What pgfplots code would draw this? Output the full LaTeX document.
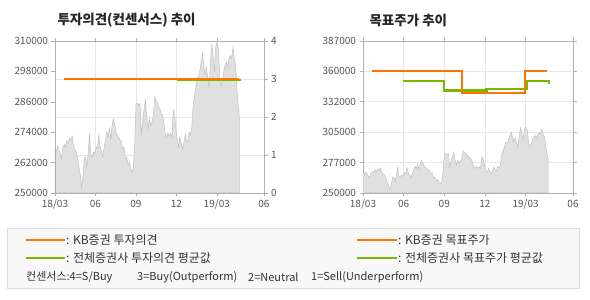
\documentclass[border=0pt]{standalone}
\usepackage{pgfplots}
\pgfplotsset{compat=1.18}
\usepackage{pgfplotstable}
\usepackage{fontspec}
\setmainfont{Noto Sans CJK KR}
\definecolor{kborange}{HTML}{FF7300}
\definecolor{avggreen}{HTML}{7AB800}
\definecolor{areafill}{HTML}{E0E0E0}
\definecolor{areaedge}{HTML}{C2C2C2}
\definecolor{gridc}{HTML}{E8E8E8}
\definecolor{axisc}{HTML}{B0B0B0}
\definecolor{tickc}{HTML}{555555}
\definecolor{legfill}{HTML}{F8F8F8}
\definecolor{legedge}{HTML}{DDDDDD}

\pgfplotstableread{
m v
0.00 267500
0.10 266200
0.20 268800
0.30 266800
0.39 265500
0.49 263900
0.59 268200
0.69 269200
0.79 268200
0.89 270800
0.99 269500
1.08 271800
1.18 270800
1.28 272400
1.38 268400
1.48 267100
1.58 266200
1.67 264200
1.77 260300
1.87 257600
1.97 252400
2.07 256300
2.17 263600
2.27 264200
2.36 260300
2.46 265500
2.56 273400
2.66 264900
2.76 264200
2.86 266200
2.96 265500
3.05 268200
3.15 267500
3.25 272800
3.35 268200
3.45 266200
3.55 264200
3.65 268200
3.74 270800
3.84 274100
3.94 272100
4.04 275400
4.14 270800
4.24 277400
4.33 279300
4.43 276700
4.53 274100
4.63 272800
4.73 272100
4.83 270800
4.93 270100
5.02 267500
5.12 268200
5.22 262900
5.32 264200
5.42 260900
5.52 262200
5.62 259600
5.71 257900
5.81 260300
5.91 268800
6.01 285300
6.11 285500
6.21 284600
6.31 285300
6.40 272800
6.50 278700
6.60 282600
6.70 286800
6.80 280000
6.90 275400
7.00 279300
7.09 276700
7.19 278000
7.29 280700
7.39 287900
7.49 286600
7.59 285900
7.68 283900
7.78 283300
7.88 281300
7.98 280700
8.08 277400
8.18 273400
8.28 272100
8.37 274100
8.47 272400
8.57 273700
8.67 272100
8.77 282600
8.87 280700
8.97 275400
9.06 270800
9.16 268200
9.26 272100
9.36 269500
9.46 267500
9.56 270100
9.66 273400
9.75 270800
9.85 270100
9.95 274100
10.05 272800
10.15 276100
10.25 285300
10.34 287900
10.44 291800
10.54 295800
10.64 295100
10.74 298400
10.84 301700
10.94 305000
11.03 300400
11.13 296400
11.23 299700
11.33 295800
11.43 291200
11.53 301700
11.63 308900
11.72 304300
11.82 297800
11.92 307600
12.02 309600
12.12 307000
12.22 295100
12.32 292500
12.41 293800
12.51 297800
12.61 300400
12.71 301700
12.81 299700
12.91 303000
13.00 304300
13.10 303000
13.20 307600
13.30 303000
13.40 300400
13.50 290500
13.60 283900
13.67 280000
}\price

\pgfplotsset{
  base/.style={
    scale only axis, height=152pt,
    xmin=0, xmax=15.5,
    xtick={0,3,6,9,12,15.5},
    xticklabels={18/03,06,09,12,19/03,06},
    axis line style={axisc}, tick style={axisc, line width=0.6pt},
    tick align=outside, major tick length=3.5pt,
    ticklabel style={font=\fontsize{10}{12}\selectfont, text=tickc},
    /pgf/number format/assume math mode=true,
    grid style={gridc, line width=0.8pt},
    scaled y ticks=false,
    yticklabel style={/pgf/number format/fixed, /pgf/number format/1000 sep={}},
    clip=true,
  },
  pricearea/.style={fill=areafill, draw=areaedge, line width=0.5pt},
}

\begin{document}
\begin{tikzpicture}[x=1pt,y=1pt]
\useasboundingbox (0,0) rectangle (590,300);

% titles
\node[anchor=west, font=\fontsize{13.5}{15}\selectfont\bfseries, text=black!85] at (54,280) {투자의견(컨센서스) 추이};
\node[anchor=west, font=\fontsize{13.5}{15}\selectfont\bfseries, text=black!85] at (366,280) {목표주가 추이};

% left chart: price
\begin{axis}[base, width=209pt, at={(55pt,107pt)}, anchor=south west,
  ymin=250000, ymax=310000,
  ytick={250000,262000,274000,286000,298000,310000},
  xmajorgrids,
  extra y ticks={265000,280000,295000},
  extra y tick labels={},
  extra y tick style={ymajorgrids, major tick length=0pt},
  axis y line*=left, axis x line*=box]
\addplot[pricearea] table[x=m,y=v] {\price} \closedcycle;
\end{axis}
% left chart: rating
\begin{axis}[base, width=209pt, at={(55pt,107pt)}, anchor=south west,
  ymin=0, ymax=4, ytick={0,1,2,3,4},
  axis y line*=right, axis x line=none]
\addplot[avggreen, line width=2.2pt] coordinates {(9.04,2.975) (13.82,2.975)};
\addplot[kborange, line width=2.2pt] coordinates {(0.64,3.01) (13.65,3.01)};
\end{axis}
% frame for left chart
\begin{axis}[base, width=209pt, at={(55pt,107pt)}, anchor=south west,
  ymin=0, ymax=4, ytick=\empty, xtick=\empty, axis line style={axisc}]
\end{axis}

% right chart
\begin{axis}[base, width=210pt, at={(363pt,107pt)}, anchor=south west,
  ymin=250000, ymax=387000,
  ytick={250000,277400,304800,332200,359600,387000},
  yticklabels={250000,277000,305000,332000,360000,387000},
  xmajorgrids, ymajorgrids]
\addplot[pricearea] table[x=m,y=v] {\price} \closedcycle;
\addplot[const plot, avggreen, line width=2.2pt] coordinates {(2.98,351300) (5.99,342400) (9.11,343600) (12.07,351300) (13.72,349300) (13.80,349300)};
\addplot[const plot, kborange, line width=2.2pt] coordinates {(0.66,360300) (7.29,340000) (11.97,360300) (13.60,360300)};
\end{axis}

% legend box
\draw[legedge, fill=legfill, line width=0.8pt] (7,11.5) rectangle (579,71.5);
\draw[kborange, line width=2.6pt] (26,60) -- (65,60);
\draw[avggreen, line width=2.6pt] (26,42) -- (65,42);
\draw[kborange, line width=2.6pt] (357,60) -- (397,60);
\draw[avggreen, line width=2.6pt] (357,42) -- (397,42);
\begin{scope}[every node/.style={anchor=west, inner sep=0pt, text=black!80, font=\fontsize{12}{14}\selectfont}]
\node at (66,60) {: KB증권 투자의견};
\node at (66,42) {: 전체증권사 투자의견 평균값};
\node at (398,60) {: KB증권 목표주가};
\node at (398,42) {: 전체증권사 목표주가 평균값};
\end{scope}
\begin{scope}[every node/.style={anchor=west, inner sep=0pt, text=black!80, font=\fontsize{11}{13}\selectfont}]
\node at (26,23) {컨센서스:4=S/Buy};
\node at (137,23) {3=Buy(Outperform)};
\node at (248,23) {2=Neutral};
\node at (311,23) {1=Sell(Underperform)};
\end{scope}
\end{tikzpicture}
\end{document}
